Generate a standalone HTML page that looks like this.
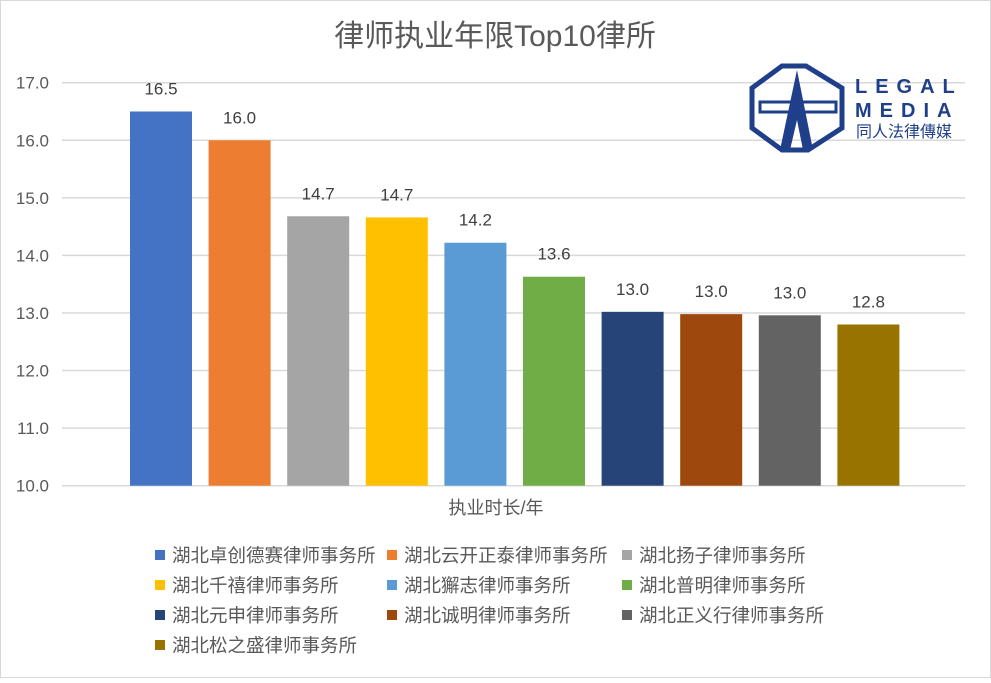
<!DOCTYPE html>
<html><head><meta charset="utf-8"><style>
body{margin:0;background:#fff;}
svg text{font-family:"Liberation Sans","Noto Sans CJK SC",sans-serif;}
</style></head><body>
<svg width="991" height="678" viewBox="0 0 991 678">
<rect x="0" y="0" width="991" height="678" fill="#fff" stroke="#d9d9d9" stroke-width="2"/>
<text x="495" y="46" text-anchor="middle" font-size="30" fill="#595959">律师执业年限Top10律所</text>
<g id="grid"></g><g id="bars"></g><g id="legend"></g>
<g>
<polygon points="782,66 806,66 842,88 842,128 808,150 782,150 752,128 752,88" fill="none" stroke="#1f3f8a" stroke-width="5"/>
<polygon points="797,70 780,150 790,150 797,120 803,150 813,150" fill="#1f3f8a"/>
<rect x="760" y="102" width="76" height="10" fill="none" stroke="#1f3f8a" stroke-width="3"/>
<text x="855" y="93" font-size="20" font-weight="bold" fill="#1f3f8a" letter-spacing="8">LEGAL</text>
<text x="855" y="117" font-size="20" font-weight="bold" fill="#1f3f8a" letter-spacing="8">MEDIA</text>
<text x="856" y="137" font-size="16" fill="#1f3f8a">同人法律傳媒</text>
</g>
<text x="496" y="514" text-anchor="middle" font-size="18" fill="#595959">执业时长/年</text>
</svg>
<script>
const categories=["湖北卓创德赛律师事务所","湖北云开正泰律师事务所","湖北扬子律师事务所","湖北千禧律师事务所","湖北獬志律师事务所","湖北普明律师事务所","湖北元申律师事务所","湖北诚明律师事务所","湖北正义行律师事务所","湖北松之盛律师事务所"];
const values=[16.5,16.0,14.68,14.66,14.22,13.63,13.02,12.98,12.96,12.8];
const labels=["16.5","16.0","14.7","14.7","14.2","13.6","13.0","13.0","13.0","12.8"];
const colors=["#4472c4","#ed7d31","#a5a5a5","#ffc000","#5b9bd5","#70ad47","#264478","#9e480e","#636363","#997300"];
const ticks=[10,11,12,13,14,15,16,17];
const NS="http://www.w3.org/2000/svg";
const y=v=>485.7-(v-10)*(403/7);
const x=i=>161+i*78.6;
function mk(t,a,p,txt){const e=document.createElementNS(NS,t);for(const k in a)e.setAttribute(k,a[k]);if(txt!=null)e.textContent=txt;p.appendChild(e);return e;}
const grid=document.getElementById('grid');
ticks.forEach(t=>{
 const l=mk('line',{x1:62,x2:965,y1:y(t),y2:y(t),stroke:'#d9d9d9','stroke-width':1.5},grid);
 
 
 const tx=mk('text',{x:49,y:y(t)+6,'text-anchor':'end','font-size':17,fill:'#595959'},grid,t.toFixed(1));
 
 
});
const bars=document.getElementById('bars');
values.forEach((v,i)=>{
 const r=mk('rect',{x:x(i)-31,y:y(v),width:62,height:y(10)-y(v),fill:colors[i]},bars);
 
 
 const t=mk('text',{x:x(i),y:y(v)-17,'text-anchor':'middle','font-size':17,fill:'#404040'},bars,labels[i]);
 
 
});
const lg=document.getElementById('legend');
const cols=[155,387,622];
categories.forEach((c,i)=>{
 const cx=cols[i%3],cy=555+Math.floor(i/3)*30;
 const g=mk('g',{},lg);
 
 
 mk('rect',{x:cx,y:cy-5,width:10,height:10,fill:colors[i]},g);
 mk('text',{x:cx+17,y:cy+7,'font-size':18.5,fill:'#595959'},g,c);
});
</script>
</body></html>
